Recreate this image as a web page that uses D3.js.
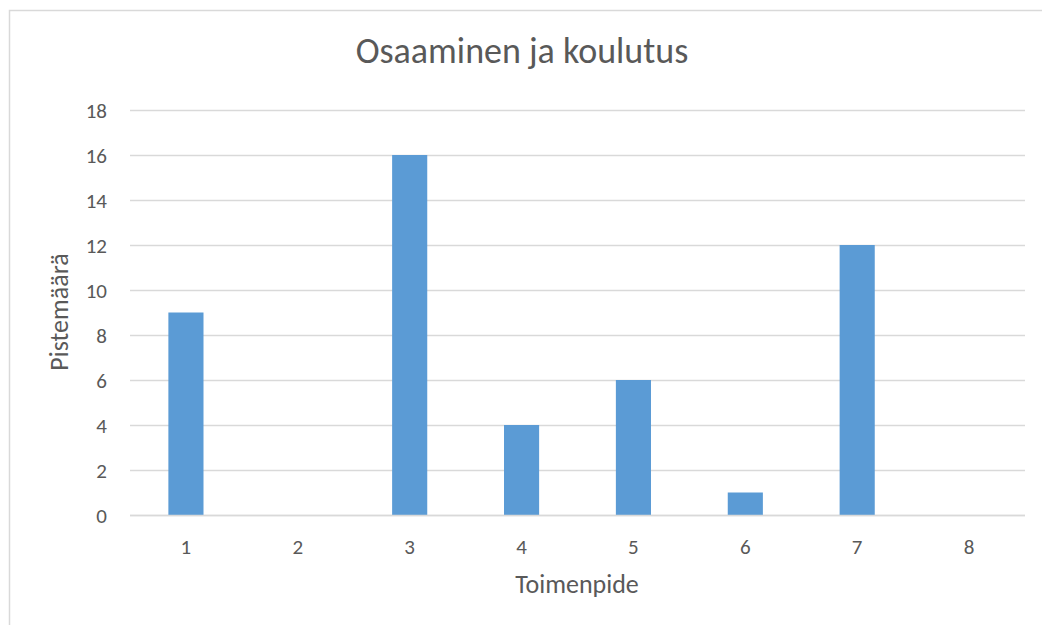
<!DOCTYPE html>
<html><head><meta charset="utf-8">
<script src="https://cdn.jsdelivr.net/npm/d3@7"></script>
<style>body{margin:0;background:#fff}svg text{font-family:Calibri,Carlito,Lato,"Open Sans","Liberation Sans",sans-serif;fill:#595959}</style>
</head><body>
<svg id="c" width="1042" height="625"></svg>
<script>
const categories = ["1","2","3","4","5","6","7","8"];
const values = [9,0,16,4,6,1,12,0];
const yTicks = [0,2,4,6,8,10,12,14,16,18];
const title = "Osaaminen ja koulutus";
const xTitle = "Toimenpide";
const yTitle = "Pistemäärä";

const svg = d3.select("#c");
// outer chart border (extends off canvas at right/bottom)
svg.append("rect").attr("x",9.5).attr("y",10.5).attr("width",1040).attr("height",620)
  .attr("fill","none").attr("stroke","#d9d9d9").attr("stroke-width",1.5);

const L=130,R=1025,T=110,B=515;
const x = d3.scaleBand().domain(categories).range([L,R]).paddingInner(0.686).paddingOuter(0.343);
const y = d3.scaleLinear().domain([0,18]).range([B,T]);

const grid = svg.append("g");
grid.selectAll("line").data(yTicks).join("line")
  .attr("x1",L).attr("x2",R).attr("y1",d=>Math.round(y(d))+0.5).attr("y2",d=>Math.round(y(d))+0.5)
  .attr("stroke","#d9d9d9").attr("stroke-width",1.3);

svg.append("g").selectAll("rect").data(values).join("rect")
  .attr("x",(d,i)=>x(categories[i])).attr("width",x.bandwidth())
  .attr("y",d=>y(d)).attr("height",d=>B-y(d)).attr("fill","#5b9bd5");

svg.append("line").attr("x1",L).attr("x2",R).attr("y1",B+0.5).attr("y2",B+0.5).attr("stroke","#d9d9d9").attr("stroke-width",1.3);

const yAxis = d3.axisLeft(y).tickValues(yTicks).tickSize(0).tickPadding(0);
const ya = svg.append("g").attr("transform",`translate(${L-23},0)`).call(yAxis);
ya.select(".domain").remove();
ya.selectAll("text").style("font-size","21px").attr("dy","0.36em");

const xAxis = d3.axisBottom(x).tickSize(0).tickPadding(0);
const xa = svg.append("g").attr("transform",`translate(0,${B+25})`).call(xAxis);
xa.select(".domain").remove();
xa.selectAll("text").style("font-size","21px").attr("dy","0.68em");
svg.selectAll(".tick text").style("fill","#595959");

svg.append("text").attr("x",522).attr("y",63).attr("text-anchor","middle").style("font-size","36px").text(title);
svg.append("text").attr("x",577).attr("y",593).attr("text-anchor","middle").style("font-size","26px").text(xTitle);
svg.append("text").attr("transform","translate(68,312) rotate(-90)").attr("text-anchor","middle").style("font-size","26px").text(yTitle);
</script>
</body></html>
